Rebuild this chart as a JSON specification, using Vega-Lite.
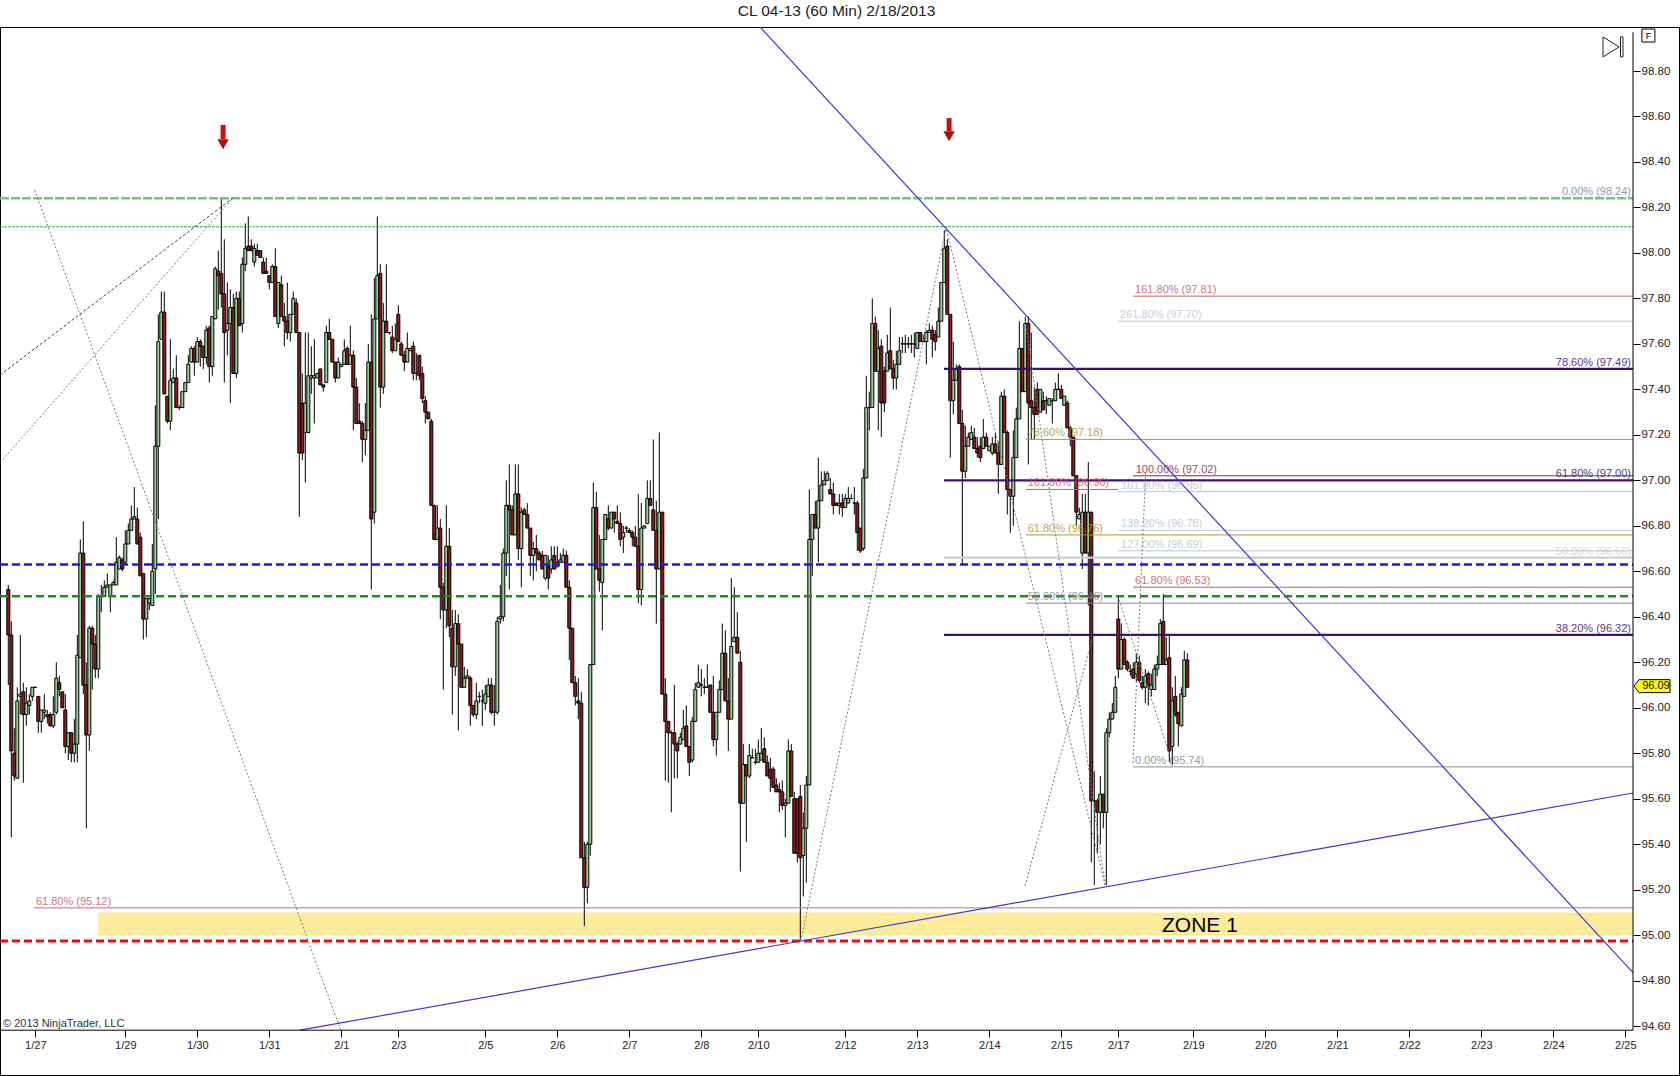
{
"$schema":"https://vega.github.io/schema/vega-lite/v6.json",
"width":1679,"height":1048,
"autosize":"none",
"padding":{"left":0,"top":27,"right":1,"bottom":1},
"background":"#ffffff",
"config":{"font":"Liberation Sans","view":{"stroke":"#000000","strokeWidth":1}},
"title":{"text":"CL 04-13 (60 Min)  2/18/2013","anchor":"middle","frame":"group","dx":-3,"offset":5,"fontSize":15.5,"fontWeight":"normal","color":"#222222"},
"datasets":{
"bars":[
{"t":0,"o":96.52,"h":96.54,"l":96.10,"c":96.32},{"t":1,"o":96.32,"h":96.38,"l":95.43,"c":95.81},{"t":2,"o":95.80,"h":95.91,"l":95.68,"c":95.70},{"t":3,"o":95.69,"h":96.09,"l":95.69,"c":96.03},{"t":4,"o":96.05,"h":96.32,"l":95.97,"c":96.06},{"t":5,"o":96.07,"h":96.11,"l":95.67,"c":95.97},{"t":6,"o":95.97,"h":96.09,"l":95.92,"c":96.02},{"t":7,"o":96.01,"h":96.06,"l":95.97,"c":96.03},{"t":8,"o":96.05,"h":96.09,"l":96.03,"c":96.09},{"t":9,"o":96.09,"h":96.09,"l":96.09,"c":96.09},
{"t":10,"o":96.05,"h":96.05,"l":95.89,"c":95.94},{"t":11,"o":95.94,"h":95.99,"l":95.89,"c":95.99},{"t":12,"o":95.98,"h":96.06,"l":95.95,"c":95.99},{"t":13,"o":95.97,"h":95.99,"l":95.93,"c":95.96},{"t":14,"o":95.97,"h":95.98,"l":95.92,"c":95.92},{"t":15,"o":95.92,"h":96.05,"l":95.91,"c":95.97},{"t":16,"o":95.98,"h":96.20,"l":95.97,"c":96.13},{"t":17,"o":96.11,"h":96.14,"l":96.05,"c":96.08},{"t":18,"o":96.07,"h":96.07,"l":96.00,"c":96.00},{"t":19,"o":95.99,"h":96.06,"l":95.80,"c":95.83},
{"t":20,"o":95.83,"h":95.89,"l":95.77,"c":95.89},{"t":21,"o":95.89,"h":95.89,"l":95.76,"c":95.80},{"t":22,"o":95.80,"h":95.95,"l":95.76,"c":95.84},{"t":23,"o":95.84,"h":96.32,"l":95.76,"c":96.23},{"t":24,"o":96.22,"h":96.74,"l":96.22,"c":96.68},{"t":25,"o":96.68,"h":96.82,"l":96.06,"c":96.10},{"t":26,"o":96.10,"h":96.20,"l":95.47,"c":95.88},{"t":27,"o":95.88,"h":96.36,"l":95.81,"c":96.35},{"t":28,"o":96.35,"h":96.36,"l":96.08,"c":96.28},{"t":29,"o":96.28,"h":96.32,"l":96.13,"c":96.17},
{"t":30,"o":96.17,"h":96.50,"l":96.13,"c":96.49},{"t":31,"o":96.49,"h":96.54,"l":96.42,"c":96.49},{"t":32,"o":96.49,"h":96.56,"l":96.49,"c":96.53},{"t":33,"o":96.53,"h":96.59,"l":96.53,"c":96.54},{"t":34,"o":96.49,"h":96.54,"l":96.42,"c":96.54},{"t":35,"o":96.54,"h":96.56,"l":96.54,"c":96.55},{"t":36,"o":96.54,"h":96.75,"l":96.54,"c":96.64},{"t":37,"o":96.61,"h":96.67,"l":96.61,"c":96.66},{"t":38,"o":96.65,"h":96.66,"l":96.60,"c":96.61},{"t":39,"o":96.64,"h":96.78,"l":96.63,"c":96.72},
{"t":40,"o":96.72,"h":96.81,"l":96.72,"c":96.78},{"t":41,"o":96.78,"h":96.89,"l":96.78,"c":96.83},{"t":42,"o":96.83,"h":96.97,"l":96.83,"c":96.84},{"t":43,"o":96.83,"h":96.88,"l":96.72,"c":96.72},{"t":44,"o":96.75,"h":96.77,"l":96.58,"c":96.58},{"t":45,"o":96.59,"h":96.59,"l":96.30,"c":96.39},{"t":46,"o":96.39,"h":96.48,"l":96.31,"c":96.48},{"t":47,"o":96.46,"h":96.48,"l":96.43,"c":96.48},{"t":48,"o":96.45,"h":96.72,"l":96.45,"c":96.60},{"t":49,"o":96.61,"h":97.33,"l":96.50,"c":97.15},
{"t":50,"o":97.15,"h":97.73,"l":96.83,"c":97.61},{"t":51,"o":97.62,"h":97.83,"l":97.62,"c":97.74},{"t":52,"o":97.74,"h":97.83,"l":97.38,"c":97.38},{"t":53,"o":97.37,"h":97.37,"l":97.25,"c":97.26},{"t":54,"o":97.26,"h":97.62,"l":97.22,"c":97.44},{"t":55,"o":97.43,"h":97.49,"l":97.43,"c":97.45},{"t":56,"o":97.45,"h":97.55,"l":97.32,"c":97.32},{"t":57,"o":97.32,"h":97.33,"l":97.31,"c":97.32},{"t":58,"o":97.32,"h":97.39,"l":97.32,"c":97.39},{"t":59,"o":97.39,"h":97.43,"l":97.39,"c":97.43},
{"t":60,"o":97.43,"h":97.55,"l":97.43,"c":97.51},{"t":61,"o":97.52,"h":97.59,"l":97.52,"c":97.58},{"t":62,"o":97.58,"h":97.59,"l":97.46,"c":97.52},{"t":63,"o":97.52,"h":97.63,"l":97.52,"c":97.61},{"t":64,"o":97.61,"h":97.62,"l":97.50,"c":97.59},{"t":65,"o":97.59,"h":97.59,"l":97.49,"c":97.54},{"t":66,"o":97.54,"h":97.68,"l":97.51,"c":97.66},{"t":67,"o":97.67,"h":97.68,"l":97.43,"c":97.50},{"t":68,"o":97.50,"h":97.72,"l":97.46,"c":97.72},{"t":69,"o":97.71,"h":97.94,"l":97.71,"c":97.93},
{"t":70,"o":97.92,"h":98.01,"l":97.75,"c":97.90},{"t":71,"o":97.91,"h":98.24,"l":97.76,"c":97.82},{"t":72,"o":97.82,"h":98.06,"l":97.43,"c":97.65},{"t":73,"o":97.66,"h":97.87,"l":97.55,"c":97.69},{"t":74,"o":97.69,"h":97.84,"l":97.34,"c":97.76},{"t":75,"o":97.76,"h":97.82,"l":97.47,"c":97.47},{"t":76,"o":97.47,"h":97.83,"l":97.45,"c":97.80},{"t":77,"o":97.80,"h":97.83,"l":97.68,"c":97.68},{"t":78,"o":97.69,"h":97.98,"l":97.65,"c":97.95},{"t":79,"o":97.95,"h":98.13,"l":97.92,"c":98.02},
{"t":80,"o":98.03,"h":98.16,"l":98.01,"c":98.01},{"t":81,"o":98.03,"h":98.06,"l":98.01,"c":98.01},{"t":82,"o":97.96,"h":98.04,"l":97.94,"c":98.02},{"t":83,"o":98.01,"h":98.04,"l":97.99,"c":97.99},{"t":84,"o":98.01,"h":98.01,"l":97.98,"c":97.98},{"t":85,"o":97.96,"h":97.98,"l":97.91,"c":97.91},{"t":86,"o":97.92,"h":97.98,"l":97.91,"c":97.91},{"t":87,"o":97.90,"h":97.90,"l":97.84,"c":97.87},{"t":88,"o":97.87,"h":97.95,"l":97.87,"c":97.94},{"t":89,"o":97.94,"h":98.02,"l":97.72,"c":97.72},
{"t":90,"o":97.69,"h":97.87,"l":97.67,"c":97.87},{"t":91,"o":97.86,"h":97.90,"l":97.72,"c":97.72},{"t":92,"o":97.72,"h":97.78,"l":97.59,"c":97.70},{"t":93,"o":97.70,"h":97.87,"l":97.62,"c":97.65},{"t":94,"o":97.65,"h":97.73,"l":97.61,"c":97.73},{"t":95,"o":97.73,"h":97.83,"l":97.73,"c":97.80},{"t":96,"o":97.78,"h":97.80,"l":97.65,"c":97.65},{"t":97,"o":97.65,"h":97.65,"l":96.84,"c":97.12},{"t":98,"o":97.34,"h":97.47,"l":97.09,"c":97.12},{"t":99,"o":97.21,"h":97.65,"l":96.99,"c":97.34},
{"t":100,"o":97.21,"h":97.65,"l":97.21,"c":97.46},{"t":101,"o":97.45,"h":97.59,"l":97.38,"c":97.46},{"t":102,"o":97.45,"h":97.62,"l":97.25,"c":97.46},{"t":103,"o":97.45,"h":97.47,"l":97.45,"c":97.47},{"t":104,"o":97.49,"h":97.49,"l":97.42,"c":97.42},{"t":105,"o":97.42,"h":97.42,"l":97.39,"c":97.41},{"t":106,"o":97.43,"h":97.68,"l":97.43,"c":97.65},{"t":107,"o":97.65,"h":97.71,"l":97.62,"c":97.62},{"t":108,"o":97.62,"h":97.62,"l":97.52,"c":97.52},{"t":109,"o":97.52,"h":97.52,"l":97.43,"c":97.45},
{"t":110,"o":97.45,"h":97.54,"l":97.45,"c":97.52},{"t":111,"o":97.50,"h":97.51,"l":97.50,"c":97.51},{"t":112,"o":97.51,"h":97.62,"l":97.51,"c":97.57},{"t":113,"o":97.58,"h":97.59,"l":97.51,"c":97.51},{"t":114,"o":97.51,"h":97.68,"l":97.51,"c":97.55},{"t":115,"o":97.55,"h":97.57,"l":97.22,"c":97.41},{"t":116,"o":97.41,"h":97.45,"l":97.25,"c":97.25},{"t":117,"o":97.26,"h":97.34,"l":97.25,"c":97.25},{"t":118,"o":97.25,"h":97.26,"l":97.08,"c":97.18},{"t":119,"o":97.18,"h":97.34,"l":97.11,"c":97.22},
{"t":120,"o":97.22,"h":97.60,"l":97.22,"c":97.52},{"t":121,"o":97.52,"h":97.73,"l":96.52,"c":96.83},{"t":122,"o":96.86,"h":97.89,"l":96.81,"c":97.71},{"t":123,"o":97.71,"h":98.16,"l":97.71,"c":97.90},{"t":124,"o":97.91,"h":97.95,"l":97.32,"c":97.41},{"t":125,"o":97.41,"h":97.78,"l":97.38,"c":97.70},{"t":126,"o":97.70,"h":97.95,"l":97.65,"c":97.65},{"t":127,"o":97.65,"h":97.65,"l":97.64,"c":97.65},{"t":128,"o":97.63,"h":97.68,"l":97.56,"c":97.57},{"t":129,"o":97.57,"h":97.69,"l":97.57,"c":97.62},
{"t":130,"o":97.73,"h":97.77,"l":97.61,"c":97.61},{"t":131,"o":97.60,"h":97.61,"l":97.55,"c":97.55},{"t":132,"o":97.55,"h":97.57,"l":97.48,"c":97.52},{"t":133,"o":97.52,"h":97.65,"l":97.52,"c":97.58},{"t":134,"o":97.57,"h":97.58,"l":97.57,"c":97.58},{"t":135,"o":97.59,"h":97.61,"l":97.44,"c":97.47},{"t":136,"o":97.47,"h":97.56,"l":97.44,"c":97.47},{"t":137,"o":97.55,"h":97.55,"l":97.44,"c":97.46},{"t":138,"o":97.47,"h":97.50,"l":97.34,"c":97.36},{"t":139,"o":97.35,"h":97.37,"l":97.25,"c":97.30},
{"t":140,"o":97.30,"h":97.30,"l":97.27,"c":97.27},{"t":141,"o":97.26,"h":97.27,"l":96.89,"c":96.89},{"t":142,"o":96.89,"h":96.89,"l":96.74,"c":96.74},{"t":143,"o":96.74,"h":96.89,"l":96.74,"c":96.79},{"t":144,"o":96.79,"h":96.83,"l":96.39,"c":96.53},{"t":145,"o":96.53,"h":96.55,"l":96.08,"c":96.43},{"t":146,"o":96.43,"h":96.89,"l":96.35,"c":96.71},{"t":147,"o":96.71,"h":96.79,"l":96.31,"c":96.36},{"t":148,"o":96.35,"h":96.43,"l":95.97,"c":96.18},{"t":149,"o":96.18,"h":96.43,"l":96.14,"c":96.37},
{"t":150,"o":96.37,"h":96.41,"l":95.90,"c":96.28},{"t":151,"o":96.28,"h":96.28,"l":96.09,"c":96.09},{"t":152,"o":96.09,"h":96.18,"l":96.09,"c":96.13},{"t":153,"o":96.13,"h":96.17,"l":96.13,"c":96.14},{"t":154,"o":96.13,"h":96.14,"l":95.92,"c":96.01},{"t":155,"o":96.01,"h":96.01,"l":95.96,"c":95.97},{"t":156,"o":95.97,"h":96.11,"l":95.95,"c":96.03},{"t":157,"o":96.05,"h":96.07,"l":96.02,"c":96.05},{"t":158,"o":96.03,"h":96.08,"l":95.92,"c":96.03},{"t":159,"o":96.02,"h":96.10,"l":95.99,"c":96.06},
{"t":160,"o":96.05,"h":96.13,"l":96.05,"c":96.10},{"t":161,"o":96.10,"h":96.13,"l":95.97,"c":95.98},{"t":162,"o":95.98,"h":96.10,"l":95.92,"c":95.98},{"t":163,"o":95.98,"h":96.40,"l":95.97,"c":96.38},{"t":164,"o":96.39,"h":96.54,"l":96.37,"c":96.40},{"t":165,"o":96.40,"h":96.70,"l":96.38,"c":96.68},{"t":166,"o":96.68,"h":97.00,"l":96.58,"c":96.89},{"t":167,"o":96.89,"h":97.07,"l":96.52,"c":96.87},{"t":168,"o":96.87,"h":96.89,"l":96.76,"c":96.76},{"t":169,"o":96.76,"h":97.07,"l":96.76,"c":96.94},
{"t":170,"o":96.94,"h":97.07,"l":96.65,"c":96.70},{"t":171,"o":96.70,"h":96.88,"l":96.53,"c":96.86},{"t":172,"o":96.87,"h":96.88,"l":96.85,"c":96.85},{"t":173,"o":96.85,"h":96.90,"l":96.79,"c":96.79},{"t":174,"o":96.79,"h":96.79,"l":96.58,"c":96.67},{"t":175,"o":96.67,"h":96.73,"l":96.56,"c":96.70},{"t":176,"o":96.70,"h":96.76,"l":96.60,"c":96.68},{"t":177,"o":96.68,"h":96.69,"l":96.65,"c":96.65},{"t":178,"o":96.67,"h":96.69,"l":96.61,"c":96.61},{"t":179,"o":96.57,"h":96.67,"l":96.56,"c":96.67},
{"t":180,"o":96.62,"h":96.67,"l":96.52,"c":96.57},{"t":181,"o":96.61,"h":96.71,"l":96.59,"c":96.65},{"t":182,"o":96.67,"h":96.71,"l":96.61,"c":96.61},{"t":183,"o":96.62,"h":96.71,"l":96.62,"c":96.64},{"t":184,"o":96.64,"h":96.68,"l":96.64,"c":96.65},{"t":185,"o":96.64,"h":96.70,"l":96.64,"c":96.67},{"t":186,"o":96.67,"h":96.69,"l":96.53,"c":96.53},{"t":187,"o":96.53,"h":96.56,"l":96.21,"c":96.35},{"t":188,"o":96.35,"h":96.35,"l":96.11,"c":96.11},{"t":189,"o":96.11,"h":96.14,"l":96.01,"c":96.05},
{"t":190,"o":96.03,"h":96.13,"l":95.95,"c":96.02},{"t":191,"o":96.02,"h":96.07,"l":95.34,"c":95.34},{"t":192,"o":95.34,"h":95.41,"l":95.04,"c":95.21},{"t":193,"o":95.21,"h":95.41,"l":95.14,"c":95.40},{"t":194,"o":95.40,"h":96.19,"l":95.35,"c":96.19},{"t":195,"o":96.19,"h":96.99,"l":96.19,"c":96.88},{"t":196,"o":96.88,"h":96.95,"l":96.61,"c":96.61},{"t":197,"o":96.61,"h":96.76,"l":96.51,"c":96.56},{"t":198,"o":96.55,"h":96.74,"l":96.34,"c":96.74},{"t":199,"o":96.74,"h":96.85,"l":96.74,"c":96.85},
{"t":200,"o":96.83,"h":96.89,"l":96.78,"c":96.79},{"t":201,"o":96.79,"h":96.86,"l":96.79,"c":96.86},{"t":202,"o":96.86,"h":96.86,"l":96.77,"c":96.83},{"t":203,"o":96.82,"h":96.89,"l":96.81,"c":96.81},{"t":204,"o":96.81,"h":96.86,"l":96.71,"c":96.74},{"t":205,"o":96.75,"h":96.80,"l":96.68,"c":96.77},{"t":206,"o":96.79,"h":96.80,"l":96.77,"c":96.79},{"t":207,"o":96.78,"h":96.79,"l":96.77,"c":96.77},{"t":208,"o":96.77,"h":96.78,"l":96.71,"c":96.75},{"t":209,"o":96.75,"h":96.80,"l":96.71,"c":96.71},
{"t":210,"o":96.71,"h":96.94,"l":96.46,"c":96.52},{"t":211,"o":96.52,"h":96.90,"l":96.45,"c":96.79},{"t":212,"o":96.79,"h":96.80,"l":96.79,"c":96.80},{"t":213,"o":96.81,"h":97.00,"l":96.81,"c":96.92},{"t":214,"o":96.92,"h":97.00,"l":96.89,"c":96.89},{"t":215,"o":96.87,"h":97.18,"l":96.78,"c":96.78},{"t":216,"o":96.78,"h":96.91,"l":96.37,"c":96.61},{"t":217,"o":96.61,"h":97.21,"l":96.61,"c":96.86},{"t":218,"o":96.86,"h":96.86,"l":96.06,"c":96.06},{"t":219,"o":96.06,"h":96.13,"l":95.68,"c":95.94},
{"t":220,"o":95.94,"h":95.94,"l":95.67,"c":95.89},{"t":221,"o":95.89,"h":95.90,"l":95.54,"c":95.89},{"t":222,"o":95.89,"h":96.10,"l":95.69,"c":95.84},{"t":223,"o":95.84,"h":95.85,"l":95.69,"c":95.81},{"t":224,"o":95.84,"h":95.89,"l":95.84,"c":95.87},{"t":225,"o":95.86,"h":95.99,"l":95.86,"c":95.91},{"t":226,"o":95.92,"h":96.01,"l":95.83,"c":95.83},{"t":227,"o":95.83,"h":95.83,"l":95.70,"c":95.76},{"t":228,"o":95.77,"h":95.96,"l":95.76,"c":95.94},{"t":229,"o":95.94,"h":96.11,"l":95.94,"c":96.08},
{"t":230,"o":96.09,"h":96.19,"l":96.09,"c":96.11},{"t":231,"o":96.10,"h":96.17,"l":96.05,"c":96.10},{"t":232,"o":96.09,"h":96.13,"l":96.06,"c":96.09},{"t":233,"o":96.09,"h":96.19,"l":96.09,"c":96.09},{"t":234,"o":96.10,"h":96.10,"l":95.98,"c":95.98},{"t":235,"o":95.98,"h":96.14,"l":95.83,"c":95.86},{"t":236,"o":95.86,"h":95.98,"l":95.79,"c":95.98},{"t":237,"o":95.98,"h":96.12,"l":95.98,"c":96.08},{"t":238,"o":96.08,"h":96.37,"l":96.08,"c":96.24},{"t":239,"o":96.24,"h":96.34,"l":96.03,"c":96.03},
{"t":240,"o":96.03,"h":96.13,"l":95.81,"c":95.95},{"t":241,"o":95.95,"h":96.57,"l":95.95,"c":96.27},{"t":242,"o":96.29,"h":96.53,"l":96.29,"c":96.31},{"t":243,"o":96.31,"h":96.42,"l":96.24,"c":96.24},{"t":244,"o":96.20,"h":96.25,"l":95.28,"c":95.58},{"t":245,"o":95.58,"h":95.84,"l":95.58,"c":95.75},{"t":246,"o":95.75,"h":95.75,"l":95.41,"c":95.70},{"t":247,"o":95.70,"h":95.84,"l":95.69,"c":95.79},{"t":248,"o":95.78,"h":95.82,"l":95.78,"c":95.78},{"t":249,"o":95.76,"h":95.82,"l":95.75,"c":95.76},
{"t":250,"o":95.76,"h":95.86,"l":95.76,"c":95.80},{"t":251,"o":95.77,"h":95.91,"l":95.77,"c":95.80},{"t":252,"o":95.82,"h":95.87,"l":95.76,"c":95.76},{"t":253,"o":95.76,"h":95.79,"l":95.70,"c":95.70},{"t":254,"o":95.73,"h":95.78,"l":95.63,"c":95.69},{"t":255,"o":95.73,"h":95.74,"l":95.65,"c":95.65},{"t":256,"o":95.66,"h":95.69,"l":95.63,"c":95.63},{"t":257,"o":95.64,"h":95.67,"l":95.54,"c":95.63},{"t":258,"o":95.63,"h":95.68,"l":95.55,"c":95.57},{"t":259,"o":95.57,"h":95.60,"l":95.43,"c":95.58},
{"t":260,"o":95.58,"h":95.86,"l":95.58,"c":95.81},{"t":261,"o":95.81,"h":95.84,"l":95.61,"c":95.61},{"t":262,"o":95.60,"h":95.63,"l":95.36,"c":95.36},{"t":263,"o":95.60,"h":95.60,"l":95.32,"c":95.36},{"t":264,"o":95.61,"h":95.66,"l":94.98,"c":95.34},{"t":265,"o":95.35,"h":95.54,"l":95.17,"c":95.47},{"t":266,"o":95.47,"h":95.70,"l":95.23,"c":95.66},{"t":267,"o":95.66,"h":96.96,"l":95.66,"c":96.74},{"t":268,"o":96.74,"h":96.85,"l":96.58,"c":96.85},{"t":269,"o":96.85,"h":96.91,"l":96.79,"c":96.79},
{"t":270,"o":96.79,"h":97.10,"l":96.64,"c":96.91},{"t":271,"o":96.91,"h":97.04,"l":96.91,"c":96.98},{"t":272,"o":96.98,"h":97.04,"l":96.98,"c":97.00},{"t":273,"o":97.00,"h":97.04,"l":97.00,"c":97.03},{"t":274,"o":96.96,"h":97.01,"l":96.94,"c":96.94},{"t":275,"o":96.94,"h":96.99,"l":96.85,"c":96.89},{"t":276,"o":96.90,"h":96.90,"l":96.89,"c":96.89},{"t":277,"o":96.89,"h":96.94,"l":96.85,"c":96.90},{"t":278,"o":96.90,"h":96.94,"l":96.84,"c":96.88},{"t":279,"o":96.88,"h":96.94,"l":96.88,"c":96.92},
{"t":280,"o":96.90,"h":96.97,"l":96.90,"c":96.92},{"t":281,"o":96.92,"h":96.94,"l":96.92,"c":96.92},{"t":282,"o":96.90,"h":96.97,"l":96.85,"c":96.90},{"t":283,"o":96.90,"h":96.91,"l":96.69,"c":96.77},{"t":284,"o":96.79,"h":96.79,"l":96.68,"c":96.69},{"t":285,"o":96.70,"h":97.05,"l":96.69,"c":97.01},{"t":286,"o":97.01,"h":97.46,"l":97.01,"c":97.32},{"t":287,"o":97.32,"h":97.39,"l":97.22,"c":97.32},{"t":288,"o":97.32,"h":97.80,"l":97.32,"c":97.69},{"t":289,"o":97.69,"h":97.72,"l":97.48,"c":97.48},
{"t":290,"o":97.48,"h":97.66,"l":97.22,"c":97.58},{"t":291,"o":97.59,"h":97.62,"l":97.19,"c":97.34},{"t":292,"o":97.48,"h":97.50,"l":97.30,"c":97.34},{"t":293,"o":97.48,"h":97.64,"l":97.48,"c":97.56},{"t":294,"o":97.57,"h":97.76,"l":97.49,"c":97.49},{"t":295,"o":97.49,"h":97.53,"l":97.40,"c":97.45},{"t":296,"o":97.45,"h":97.57,"l":97.40,"c":97.51},{"t":297,"o":97.51,"h":97.63,"l":97.51,"c":97.57},{"t":298,"o":97.60,"h":97.63,"l":97.56,"c":97.60},{"t":299,"o":97.60,"h":97.64,"l":97.56,"c":97.60},
{"t":300,"o":97.60,"h":97.63,"l":97.58,"c":97.60},{"t":301,"o":97.60,"h":97.64,"l":97.56,"c":97.60},{"t":302,"o":97.60,"h":97.65,"l":97.54,"c":97.60},{"t":303,"o":97.58,"h":97.65,"l":97.58,"c":97.65},{"t":304,"o":97.65,"h":97.65,"l":97.61,"c":97.61},{"t":305,"o":97.61,"h":97.64,"l":97.61,"c":97.61},{"t":306,"o":97.61,"h":97.66,"l":97.51,"c":97.65},{"t":307,"o":97.65,"h":97.69,"l":97.65,"c":97.66},{"t":308,"o":97.66,"h":97.68,"l":97.54,"c":97.62},{"t":309,"o":97.64,"h":97.66,"l":97.57,"c":97.61},
{"t":310,"o":97.63,"h":97.76,"l":97.63,"c":97.70},{"t":311,"o":97.70,"h":97.87,"l":97.70,"c":97.87},{"t":312,"o":97.87,"h":98.10,"l":97.87,"c":98.02},{"t":313,"o":98.03,"h":98.06,"l":97.73,"c":97.73},{"t":314,"o":97.73,"h":97.73,"l":97.10,"c":97.35},{"t":315,"o":97.35,"h":97.61,"l":97.29,"c":97.44},{"t":316,"o":97.44,"h":97.51,"l":97.44,"c":97.49},{"t":317,"o":97.50,"h":97.51,"l":97.25,"c":97.25},{"t":318,"o":97.25,"h":97.31,"l":96.63,"c":97.04},{"t":319,"o":97.04,"h":97.24,"l":97.01,"c":97.15},
{"t":320,"o":97.15,"h":97.21,"l":97.15,"c":97.19},{"t":321,"o":97.18,"h":97.24,"l":97.18,"c":97.21},{"t":322,"o":97.19,"h":97.23,"l":97.14,"c":97.14},{"t":323,"o":97.14,"h":97.19,"l":97.10,"c":97.12},{"t":324,"o":97.15,"h":97.19,"l":97.08,"c":97.10},{"t":325,"o":97.14,"h":97.27,"l":97.14,"c":97.19},{"t":326,"o":97.19,"h":97.21,"l":97.15,"c":97.15},{"t":327,"o":97.13,"h":97.15,"l":97.13,"c":97.15},{"t":328,"o":97.12,"h":97.19,"l":97.11,"c":97.16},{"t":329,"o":97.16,"h":97.21,"l":97.12,"c":97.12},
{"t":330,"o":97.12,"h":97.17,"l":96.94,"c":97.07},{"t":331,"o":97.07,"h":97.39,"l":97.07,"c":97.37},{"t":332,"o":97.37,"h":97.40,"l":97.21,"c":97.21},{"t":333,"o":97.21,"h":97.22,"l":96.85,"c":96.96},{"t":334,"o":96.96,"h":96.96,"l":96.77,"c":96.93},{"t":335,"o":96.93,"h":97.22,"l":96.80,"c":97.10},{"t":336,"o":97.10,"h":97.32,"l":97.10,"c":97.27},{"t":337,"o":97.27,"h":97.70,"l":97.27,"c":97.58},{"t":338,"o":97.58,"h":97.58,"l":97.39,"c":97.39},{"t":339,"o":97.39,"h":97.72,"l":97.39,"c":97.69},
{"t":340,"o":97.69,"h":97.72,"l":97.07,"c":97.34},{"t":341,"o":97.35,"h":97.65,"l":97.18,"c":97.32},{"t":342,"o":97.32,"h":97.41,"l":97.18,"c":97.29},{"t":343,"o":97.40,"h":97.43,"l":97.29,"c":97.29},{"t":344,"o":97.30,"h":97.40,"l":97.30,"c":97.40},{"t":345,"o":97.35,"h":97.39,"l":97.31,"c":97.31},{"t":346,"o":97.35,"h":97.37,"l":97.29,"c":97.35},{"t":347,"o":97.33,"h":97.36,"l":97.33,"c":97.36},{"t":348,"o":97.35,"h":97.36,"l":97.25,"c":97.35},{"t":349,"o":97.35,"h":97.43,"l":97.35,"c":97.40},
{"t":350,"o":97.40,"h":97.47,"l":97.40,"c":97.40},{"t":351,"o":97.40,"h":97.42,"l":97.36,"c":97.36},{"t":352,"o":97.33,"h":97.37,"l":97.33,"c":97.37},{"t":353,"o":97.34,"h":97.35,"l":97.23,"c":97.23},{"t":354,"o":97.23,"h":97.24,"l":97.15,"c":97.19},{"t":355,"o":97.19,"h":97.19,"l":97.02,"c":97.02},{"t":356,"o":97.02,"h":97.02,"l":96.80,"c":96.86},{"t":357,"o":96.83,"h":96.88,"l":96.83,"c":96.85},{"t":358,"o":96.68,"h":96.94,"l":96.61,"c":96.86},{"t":359,"o":96.86,"h":96.94,"l":96.68,"c":96.68},
{"t":360,"o":96.68,"h":97.08,"l":96.45,"c":96.86},{"t":361,"o":96.86,"h":96.86,"l":95.32,"c":95.59},{"t":362,"o":95.59,"h":95.72,"l":95.22,"c":95.59},{"t":363,"o":95.59,"h":95.60,"l":95.36,"c":95.54},{"t":364,"o":95.54,"h":95.70,"l":95.40,"c":95.62},{"t":365,"o":95.62,"h":95.62,"l":95.47,"c":95.54},{"t":366,"o":95.54,"h":95.91,"l":95.22,"c":95.89},{"t":367,"o":95.89,"h":95.98,"l":95.87,"c":95.95},{"t":368,"o":95.95,"h":96.02,"l":95.95,"c":95.98},{"t":369,"o":95.98,"h":96.14,"l":95.98,"c":96.09},
{"t":370,"o":96.39,"h":96.49,"l":96.13,"c":96.17},{"t":371,"o":96.17,"h":96.37,"l":96.17,"c":96.30},{"t":372,"o":96.30,"h":96.31,"l":96.19,"c":96.19},{"t":373,"o":96.20,"h":96.21,"l":96.16,"c":96.17},{"t":374,"o":96.16,"h":96.19,"l":96.14,"c":96.16},{"t":375,"o":96.17,"h":96.20,"l":96.13,"c":96.13},{"t":376,"o":96.15,"h":96.24,"l":96.11,"c":96.20},{"t":377,"o":96.20,"h":96.23,"l":96.11,"c":96.12},{"t":378,"o":96.11,"h":96.14,"l":96.08,"c":96.09},{"t":379,"o":96.09,"h":96.17,"l":96.02,"c":96.14},
{"t":380,"o":96.15,"h":96.16,"l":96.01,"c":96.10},{"t":381,"o":96.08,"h":96.15,"l":96.05,"c":96.10},{"t":382,"o":96.08,"h":96.19,"l":96.08,"c":96.17},{"t":383,"o":96.17,"h":96.23,"l":96.14,"c":96.19},{"t":384,"o":96.19,"h":96.39,"l":96.19,"c":96.37},{"t":385,"o":96.38,"h":96.50,"l":96.19,"c":96.19},{"t":386,"o":96.19,"h":96.31,"l":96.19,"c":96.21},{"t":387,"o":96.22,"h":96.32,"l":95.76,"c":95.81},{"t":388,"o":95.83,"h":96.09,"l":95.75,"c":96.03},{"t":389,"o":96.05,"h":96.14,"l":95.96,"c":95.97},
{"t":390,"o":95.98,"h":95.98,"l":95.83,"c":95.93},{"t":391,"o":95.92,"h":96.09,"l":95.92,"c":96.06},{"t":392,"o":96.05,"h":96.25,"l":96.05,"c":96.21},{"t":393,"o":96.21,"h":96.24,"l":96.09,"c":96.09}
],
"thinLevels":[
{"t":374.9,"t2":541.57,"p":97.81,"series":"fibRed"},{"t":369.9,"t2":541.57,"p":97.70,"series":"fibSteel"},{"t":339.23,"t2":541.57,"p":97.18,"series":"fibGold"},{"t":374.9,"t2":541.57,"p":97.02,"series":"fibWine"},{"t":339.23,"t2":369.9,"p":96.96,"series":"fibRed"},{"t":369.9,"t2":541.57,"p":96.95,"series":"fibSteel"},{"t":369.9,"t2":541.57,"p":96.78,"series":"fibSteel"},{"t":339.23,"t2":541.57,"p":96.76,"series":"fibGold"},{"t":369.9,"t2":541.57,"p":96.69,"series":"fibSteel"},{"t":374.9,"t2":541.57,"p":96.53,"series":"fibRed"},{"t":339.23,"t2":541.57,"p":96.46,"series":"fibGray"},{"t":374.9,"t2":541.57,"p":95.74,"series":"fibGray"},{"t":8.57,"t2":541.57,"p":95.12,"series":"fibPink"}
],
"thickLevels":[
{"t":311.9,"t2":541.57,"p":97.49,"series":"fibPurple"},{"t":311.9,"t2":541.57,"p":97.00,"series":"fibPurple"},{"t":311.9,"t2":541.57,"p":96.32,"series":"fibPurple"},{"t":311.9,"t2":541.57,"p":96.66,"series":"fibSilver"}
],
"leftLabels":[
{"t":375.6,"p":97.81,"label":"161.80% (97.81)","series":"fibRed"},{"t":370.6,"p":97.70,"label":"261.80% (97.70)","series":"fibSteel"},{"t":339.8,"p":97.18,"label":"78.60% (97.18)","series":"fibGold"},{"t":375.8,"p":97.02,"label":"100.00% (97.02)","series":"fibWine"},{"t":339.8,"p":96.96,"label":"161.80% (96.96)","series":"fibRed"},{"t":370.9,"p":96.95,"label":"161.80% (96.95)","series":"fibSteel"},{"t":370.9,"p":96.78,"label":"138.20% (96.78)","series":"fibSteel"},{"t":339.8,"p":96.76,"label":"61.80% (96.76)","series":"fibGold"},{"t":370.9,"p":96.69,"label":"127.00% (96.69)","series":"fibSteel"},{"t":375.6,"p":96.53,"label":"61.80% (96.53)","series":"fibRed"},{"t":339.8,"p":96.46,"label":"50.00% (96.46)","series":"fibGray"},{"t":375.6,"p":95.74,"label":"0.00% (95.74)","series":"fibGray"},{"t":9.2,"p":95.12,"label":"61.80% (95.12)","series":"fibRed"}
],
"rightLabels":[
{"t":540.9,"p":98.24,"label":"0.00% (98.24)","series":"fibGray"},{"t":540.9,"p":97.49,"label":"78.60% (97.49)","series":"fibPurple"},{"t":540.9,"p":97.00,"label":"61.80% (97.00)","series":"fibPurple"},{"t":540.9,"p":96.66,"label":"50.00% (96.66)","series":"fibSilver"},{"t":540.9,"p":96.32,"label":"38.20% (96.32)","series":"fibPurple"}
],
"zigzag":[
{"id":"A","t":8.57,"p":98.285},{"id":"A","t":110.8,"p":94.582},
{"id":"C","t":-2.77,"p":97.078},{"id":"C","t":74.9,"p":98.242},
{"id":"D","t":264.2,"p":94.974},{"id":"D","t":312.6,"p":98.11},
{"id":"E","t":312.6,"p":98.11},{"id":"E","t":365.6,"p":95.22},
{"id":"F","t":338.9,"p":95.216},{"id":"F","t":361.2,"p":96.298},
{"id":"G","t":338.9,"p":97.714},{"id":"G","t":365.6,"p":95.22},
{"id":"H","t":379.1,"p":97.032},{"id":"H","t":374.9,"p":95.757},
{"id":"I","t":369.9,"p":96.487},{"id":"I","t":386.6,"p":95.814}
],
"arrows":[{"t":71.6,"p":98.563,"p2":98.50,"head":98.478},{"t":313.6,"p":98.593,"p2":98.536,"head":98.513}],
"frame":[{"t":541.57,"t2":541.57,"p":98.97,"p2":94.582},{"t":-2.77,"t2":541.57,"p":94.582,"p2":94.582}]
},
"encoding":{
"x":{"field":"t","type":"quantitative","title":null,"scale":{"domain":[-2.767,556.9],"nice":false,"zero":false,"padding":0},
"axis":{"orient":"bottom","offset":-45,"domain":false,"grid":false,"ticks":true,"tickColor":"#000000","tickSize":7,"tickWidth":1,"labelColor":"#222222","labelFontSize":11,"labelPadding":2,"labelOverlap":false,"labelFlush":false,
"values":[9,39,63,87,111,130,159,183,207,231,250,279,303,327,351,370,395,419,443,467,491,515,539],
"labelExpr":"{'9':'1/27','39':'1/29','63':'1/30','87':'1/31','111':'2/1','130':'2/3','159':'2/5','183':'2/6','207':'2/7','231':'2/8','250':'2/10','279':'2/12','303':'2/13','327':'2/14','351':'2/15','370':'2/17','395':'2/19','419':'2/20','443':'2/21','467':'2/22','491':'2/23','515':'2/24','539':'2/25'}[''+datum.value]"}},
"y":{"field":"p","type":"quantitative","title":null,"scale":{"domain":[94.385,98.9935],"nice":false,"zero":false},
"axis":{"orient":"right","offset":-46,"domain":false,"grid":false,"tickColor":"#000000","tickSize":7,"tickWidth":1,"labelColor":"#222222","labelFontSize":11.5,"labelPadding":1,"format":".2f","labelOverlap":false,"labelFlush":false,"labelBaseline":"middle",
"values":[94.6,94.8,95.0,95.2,95.4,95.6,95.8,96.0,96.2,96.4,96.6,96.8,97.0,97.2,97.4,97.6,97.8,98.0,98.2,98.4,98.6,98.8]}}
},
"layer":[
{"data":{"values":[{"t":29.9,"t2":541.57,"p":95.10,"p2":95.0}]},"mark":{"type":"rect","color":"#fdeb9c"},"encoding":{"x2":{"field":"t2"},"y2":{"field":"p2"}}},
{"data":{"name":"bars"},"mark":{"type":"rule","color":"#000000","strokeWidth":1},"encoding":{"y":{"field":"l","type":"quantitative","title":null,"scale":{"domain":[94.385,98.9935],"nice":false,"zero":false}},"y2":{"field":"h"}}},
{"data":{"name":"bars"},"mark":{"type":"bar","size":3,"stroke":"#000000","strokeWidth":1},"encoding":{"y":{"field":"o","type":"quantitative","title":null,"scale":{"domain":[94.385,98.9935],"nice":false,"zero":false}},"y2":{"field":"c"},"fill":{"condition":{"test":"datum.c>=datum.o","value":"#98d098"},"value":"#8b1a1a"}}},
{"data":{"values":[{"p":98.24,"t":-2.77,"t2":541.57}]},"mark":{"type":"rule","color":"#70c870","strokeWidth":2.5,"strokeDash":[9,2]},"encoding":{"x2":{"field":"t2"}}},
{"data":{"values":[{"p":98.115,"t":-2.77,"t2":541.57}]},"mark":{"type":"rule","color":"#30a830","strokeWidth":1,"strokeDash":[3,1]},"encoding":{"x2":{"field":"t2"}}},
{"data":{"values":[{"p":96.63,"t":-2.77,"t2":541.57}]},"mark":{"type":"rule","color":"#1a1ae0","strokeWidth":2.5,"strokeDash":[8,4]},"encoding":{"x2":{"field":"t2"}}},
{"data":{"values":[{"p":96.49,"t":-2.77,"t2":541.57}]},"mark":{"type":"rule","color":"#1f8a1f","strokeWidth":2.5,"strokeDash":[8,4]},"encoding":{"x2":{"field":"t2"}}},
{"data":{"values":[{"p":94.974,"t":-2.77,"t2":541.57}]},"mark":{"type":"rule","color":"#e01010","strokeWidth":3,"strokeDash":[8,4]},"encoding":{"x2":{"field":"t2"}}},
{"data":{"name":"thinLevels"},"mark":{"type":"rule","strokeWidth":1},"encoding":{"x2":{"field":"t2"},"color":{"field":"series","type":"nominal","legend":null,"scale":{"domain":["fibRed","fibSteel","fibGold","fibWine","fibGray","fibPink","fibPurple","fibSilver"],"range":["#c8605f","#b7c6da","#b8962e","#8e2a3a","#808a94","#b0709a","#3c1270","#cfcfcf"]}}}},
{"data":{"name":"thickLevels"},"mark":{"type":"rule","strokeWidth":2.2},"encoding":{"x2":{"field":"t2"},"color":{"field":"series","type":"nominal","legend":null,"scale":{"domain":["fibRed","fibSteel","fibGold","fibWine","fibGray","fibPink","fibPurple","fibSilver"],"range":["#c8605f","#b7c6da","#b8962e","#8e2a3a","#808a94","#b0709a","#3c1270","#cfcfcf"]}}}},
{"data":{"name":"zigzag"},"mark":{"type":"line","color":"#7a7a7a","strokeWidth":1,"strokeDash":[2,2]},"encoding":{"detail":{"field":"id"},"order":{"field":"p"}}},
{"data":{"values":[{"t":-2.77,"p":97.463},{"t":74.9,"p":98.242}]},"mark":{"type":"line","color":"#2d5a2d","strokeWidth":1,"strokeDash":[3,2]},"encoding":{}},
{"data":{"values":[{"id":"upper","t":250.6,"p":98.993},{"id":"upper","t":541.57,"p":94.835},{"id":"lower","t":97.2,"p":94.582},{"id":"lower","t":541.57,"p":95.625}]},"mark":{"type":"line","color":"#3a3acd","strokeWidth":1.2},"encoding":{"detail":{"field":"id"}}},
{"data":{"name":"arrows"},"mark":{"type":"rule","color":"#c81010","strokeWidth":5},"encoding":{"y2":{"field":"p2"}}},
{"data":{"name":"arrows"},"mark":{"type":"point","shape":"triangle-down","filled":true,"color":"#a81010","size":130,"opacity":1},"encoding":{"y":{"field":"head","type":"quantitative","title":null,"scale":{"domain":[94.385,98.9935],"nice":false,"zero":false}}}},
{"data":{"name":"frame"},"mark":{"type":"rule","color":"#000000","strokeWidth":1},"encoding":{"x2":{"field":"t2"},"y2":{"field":"p2"}}},
{"data":{"name":"leftLabels"},"mark":{"type":"text","align":"left","baseline":"alphabetic","dy":-3,"fontSize":11,"opacity":0.85},"encoding":{"text":{"field":"label"},"color":{"field":"series","type":"nominal","legend":null,"scale":{"domain":["fibRed","fibSteel","fibGold","fibWine","fibGray","fibPink","fibPurple","fibSilver"],"range":["#c8605f","#b7c6da","#b8962e","#8e2a3a","#808a94","#b0709a","#3c1270","#cfcfcf"]}}}},
{"data":{"name":"rightLabels"},"mark":{"type":"text","align":"right","baseline":"alphabetic","dy":-3,"fontSize":11,"opacity":0.85},"encoding":{"text":{"field":"label"},"color":{"field":"series","type":"nominal","legend":null,"scale":{"domain":["fibRed","fibSteel","fibGold","fibWine","fibGray","fibPink","fibPurple","fibSilver"],"range":["#c8605f","#b7c6da","#b8962e","#8e2a3a","#808a94","#b0709a","#3c1270","#cfcfcf"]}}}},
{"data":{"values":[{"t":397.2,"p":95.04,"label":"ZONE 1"}]},"mark":{"type":"text","fontSize":21,"color":"#000000","align":"center","baseline":"middle"},"encoding":{"text":{"field":"label"}}},
{"data":{"values":[{"t":-1.77,"p":94.61,"label":"© 2013 NinjaTrader, LLC"}]},"mark":{"type":"text","fontSize":11,"color":"#333333","align":"left","baseline":"middle"},"encoding":{"text":{"field":"label"}}},
{"data":{"values":[{"t":534.9,"p":98.906}]},"mark":{"type":"point","shape":"M-1,-1 L0.6,0 L-1,1 Z M0.75,-1 L1,-1 L1,1 L0.75,1 Z","size":400,"filled":false,"stroke":"#222222","strokeWidth":1,"opacity":1},"encoding":{}},
{"data":{"values":[{"t":546.7,"p":98.956}]},"mark":{"type":"point","shape":"square","size":169,"filled":false,"stroke":"#000000","strokeWidth":1,"opacity":1},"encoding":{}},
{"data":{"values":[{"t":546.7,"p":98.956,"label":"F"}]},"mark":{"type":"text","fontSize":9,"color":"#000000","align":"center","baseline":"middle"},"encoding":{"text":{"field":"label"}}},
{"data":{"values":[{"t":547.9,"p":96.095}]},"mark":{"type":"point","shape":"M-1,0 L-0.72,-0.36 L1,-0.36 L1,0.36 L-0.72,0.36 Z","size":1296,"filled":true,"fill":"#ffff00","stroke":"#000000","strokeWidth":1,"opacity":1},"encoding":{}},
{"data":{"values":[{"t":549.2,"p":96.095,"label":"96.09"}]},"mark":{"type":"text","fontSize":11,"color":"#000000","align":"center","baseline":"middle"},"encoding":{"text":{"field":"label"}}}
]
}
